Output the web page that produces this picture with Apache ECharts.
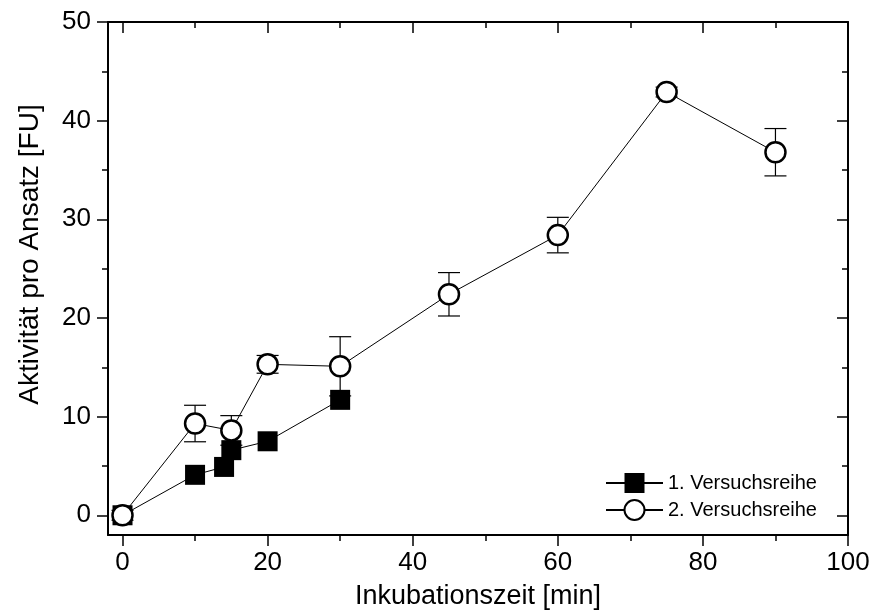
<!DOCTYPE html>
<html>
<head>
<meta charset="utf-8">
<script src="https://cdn.jsdelivr.net/npm/echarts@6/dist/echarts.min.js"></script>
<style>
  html, body { margin: 0; padding: 0; background: #fff; }
  #chart { width: 876px; height: 615px; }
</style>
</head>
<body>
<div id="chart"></div>
<script>
const zeit1 = [0, 10, 14, 15, 20, 30];
const aktiv1 = [0, 4.1, 4.9, 6.6, 7.5, 11.7];

const zeit2 = [0, 10, 15, 20, 30, 45, 60, 75, 90];
const aktiv2 = [0, 9.3, 8.6, 15.3, 15.1, 22.4, 28.4, 42.9, 36.8];
const fehler2 = [0.5, 1.85, 1.5, 0.9, 3.0, 2.2, 1.8, 0.5, 2.4];

const xMajor = [0, 20, 40, 60, 80, 100];
const xMinor = [10, 30, 50, 70, 90];
const yMajor = [0, 10, 20, 30, 40, 50];
const yMinor = [5, 15, 25, 35, 45];

const FONT = 'Liberation Sans, Arial, sans-serif';

const chart = echarts.init(document.getElementById('chart'));

// eine Achse nur fuer Striche (Haupt- oder Nebenstriche)
function tickAxis(pos, vals, len, inside, line, min, max) {
  return {
    type: 'value', position: pos, min: min, max: max,
    axisLine: { show: line, onZero: false, lineStyle: { color: '#000', width: 2 } },
    axisTick: { show: true, inside: inside, length: len, customValues: vals,
                lineStyle: { color: '#000', width: 1.5 } },
    axisLabel: { show: false },
    splitLine: { show: false }
  };
}

const xBottom = tickAxis('bottom', xMajor, 11, false, true, -2, 100);
xBottom.axisLabel = { show: true, customValues: xMajor, fontSize: 26, color: '#000',
                      fontFamily: FONT, margin: 15 };
xBottom.name = 'Inkubationszeit [min]';
xBottom.nameLocation = 'middle';
xBottom.nameGap = 48;
xBottom.nameTextStyle = { fontSize: 27, color: '#000', fontFamily: FONT };

const yLeft = tickAxis('left', yMajor, 11, false, true, -2, 50);
yLeft.axisLabel = { show: true, customValues: yMajor, fontSize: 26, color: '#000',
                    fontFamily: FONT, margin: 17 };
yLeft.name = 'Aktivität pro Ansatz [FU]';
yLeft.nameLocation = 'middle';
yLeft.nameGap = 64;
// Titel sitzt etwas oberhalb der Mitte
yLeft.nameTextStyle = { fontSize: 28, color: '#000', fontFamily: FONT, padding: [0, 0, 0, 48] };

const option = {
  animation: false,
  backgroundColor: '#fff',
  grid: { left: 108, right: 28, top: 22, bottom: 79 },
  xAxis: [
    xBottom,
    tickAxis('bottom', xMinor, 6, false, false, -2, 100),
    tickAxis('top', xMajor, 11, true, true, -2, 100),
    tickAxis('top', xMinor, 6, true, false, -2, 100)
  ],
  yAxis: [
    yLeft,
    tickAxis('left', yMinor, 6, false, false, -2, 50),
    tickAxis('right', yMajor, 11, true, true, -2, 50),
    tickAxis('right', yMinor, 6, true, false, -2, 50)
  ],
  legend: {
    data: ['1. Versuchsreihe', '2. Versuchsreihe'],
    orient: 'vertical',
    left: 600, top: 468,
    itemWidth: 57, itemHeight: 25, itemGap: 6,
    textStyle: { fontSize: 20, color: '#000', fontFamily: FONT }
  },
  series: [
    {
      name: '1. Versuchsreihe',
      type: 'line',
      data: zeit1.map((t, i) => [t, aktiv1[i]]),
      symbol: 'rect', symbolSize: 20,
      itemStyle: { color: '#000' },
      lineStyle: { color: '#000', width: 1 },
      z: 2
    },
    {
      // Fehlerbalken der 2. Reihe
      type: 'custom',
      data: zeit2.map((t, i) => [t, aktiv2[i] - fehler2[i], aktiv2[i] + fehler2[i]]),
      renderItem: function (params, api) {
        const lo = api.coord([api.value(0), api.value(1)]);
        const hi = api.coord([api.value(0), api.value(2)]);
        const w = 11;
        const st = { stroke: '#000', lineWidth: 1.2 };
        return {
          type: 'group',
          children: [
            { type: 'line', shape: { x1: lo[0], y1: lo[1], x2: hi[0], y2: hi[1] }, style: st },
            { type: 'line', shape: { x1: lo[0] - w, y1: lo[1], x2: lo[0] + w, y2: lo[1] }, style: st },
            { type: 'line', shape: { x1: hi[0] - w, y1: hi[1], x2: hi[0] + w, y2: hi[1] }, style: st }
          ]
        };
      },
      z: 3
    },
    {
      name: '2. Versuchsreihe',
      type: 'line',
      data: zeit2.map((t, i) => [t, aktiv2[i]]),
      symbol: 'circle', symbolSize: 20,
      itemStyle: { color: '#fff', borderColor: '#000', borderWidth: 2.5 },
      lineStyle: { color: '#000', width: 1 },
      z: 4
    }
  ]
};

chart.setOption(option);
</script>
</body>
</html>
